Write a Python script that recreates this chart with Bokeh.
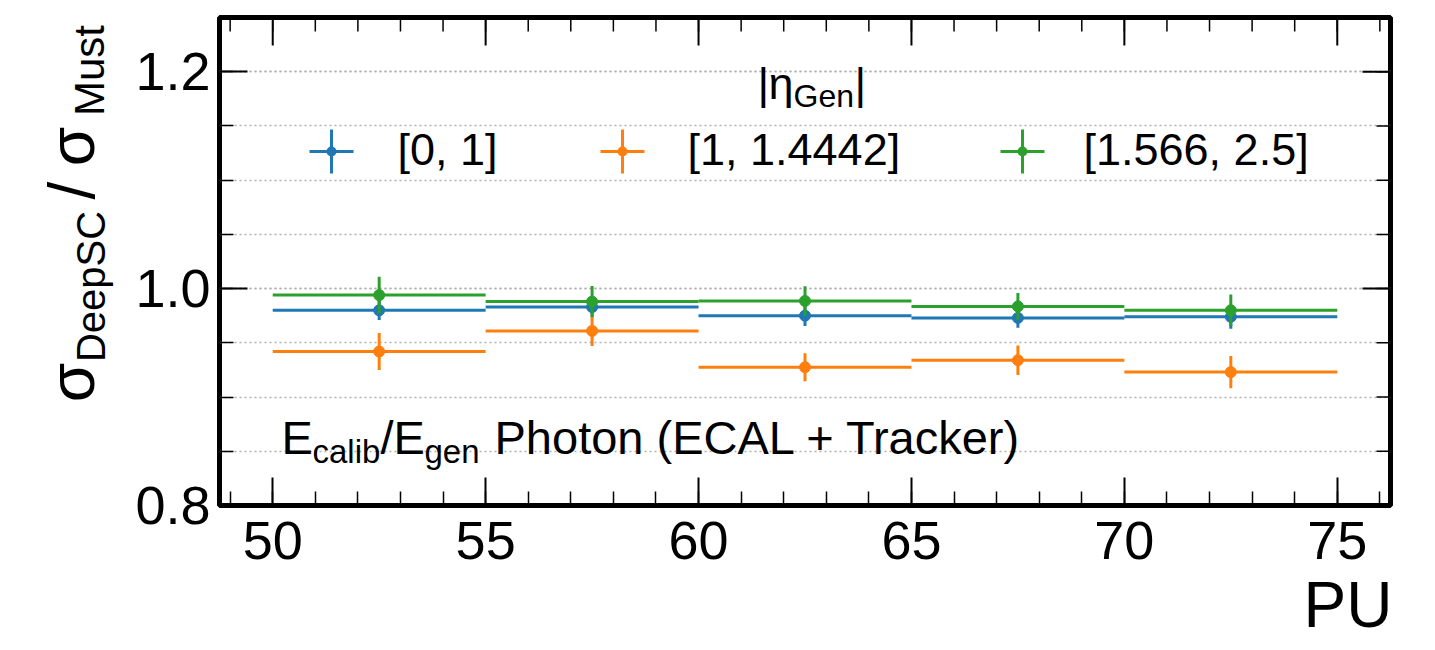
import math
from bokeh.plotting import figure
from bokeh.layouts import row
from bokeh.models import (Range1d, LinearAxis, FixedTicker, Label, Arrow, Title,
                          BoxAnnotation, PrintfTickFormatter)
from bokeh.embed import file_html
from bokeh.resources import INLINE

# ---------------- data ----------------
pu_bin_edges = [50, 55, 60, 65, 70, 75]
pu_bin_centers = [52.5, 57.5, 62.5, 67.5, 72.5]

eta_bin_labels = ["[0, 1]", "[1, 1.4442]", "[1.566, 2.5]"]
series_colors = ["#1f77b4", "#ff7f0e", "#2ca02c"]

ratio_eta_0_1 = [0.980, 0.983, 0.975, 0.973, 0.974]
err_eta_0_1 = [0.009, 0.008, 0.0095, 0.009, 0.011]
ratio_eta_1_14442 = [0.942, 0.961, 0.9275, 0.934, 0.923]
err_eta_1_14442 = [0.017, 0.014, 0.013, 0.0136, 0.0148]
ratio_eta_1566_25 = [0.994, 0.988, 0.9886, 0.9836, 0.980]
err_eta_1566_25 = [0.017, 0.0145, 0.0136, 0.0123, 0.0145]

x_limits = [48.75, 76.25]
y_limits = [0.8, 1.25]
x_major_ticks = [50, 55, 60, 65, 70, 75]
x_minor_ticks = list(range(49, 77))
y_major_ticks = [0.8, 1.0, 1.2]
y_minor_ticks = [0.80, 0.85, 0.90, 0.95, 1.00, 1.05, 1.10, 1.15, 1.20, 1.25]

FONT = "Liberation Sans"
BASE_SHIFT = 0.45  # Label vertical anchor correction (fraction of font size)

# ---------------- layout geometry (page px) ----------------
LEFT_W = 130
MAIN_W, H = 1300, 650
FL, FR, FT, FB = 219, 1390, 17, 505   # frame edges on the page

# ---------------- main figure ----------------
p = figure(width=MAIN_W, height=H, x_range=Range1d(*x_limits), y_range=Range1d(*y_limits),
           output_backend="svg", toolbar_location=None,
           min_border_left=FL - LEFT_W, min_border_right=LEFT_W + MAIN_W - FR,
           min_border_top=FT, min_border_bottom=H - FB,
           x_axis_location=None, y_axis_location=None)
p.background_fill_color = "white"
p.border_fill_color = "white"
p.outline_line_color = "black"
p.outline_line_width = 5


def style_axis(ax, ticks, minor):
    ax.ticker = FixedTicker(ticks=ticks, minor_ticks=minor)
    ax.axis_line_color = None
    ax.major_tick_in = 28
    ax.major_tick_out = 0
    ax.minor_tick_in = 14
    ax.minor_tick_out = 0
    ax.major_tick_line_width = 2
    ax.minor_tick_line_width = 1.5
    ax.major_tick_line_color = "black"
    ax.minor_tick_line_color = "black"
    ax.major_label_text_font = FONT
    ax.major_label_text_color = "black"
    ax.major_label_text_font_size = "54px"


xb = LinearAxis()
style_axis(xb, x_major_ticks, x_minor_ticks)
xb.major_label_standoff = 16
p.add_layout(xb, "below")
yl = LinearAxis(formatter=PrintfTickFormatter(format="%.1f"))
style_axis(yl, y_major_ticks, y_minor_ticks)
yl.major_label_standoff = 9
p.add_layout(yl, "left")

# x-axis title, right-aligned below the tick labels
p.add_layout(Title(text="PU", align="right", text_font=FONT, text_font_size="64px",
                   text_font_style="normal", text_color="black", standoff=11, offset=-2), "below")

# mirrored (inward) ticks on top and right: half of each dash is clipped by the frame
n_xmaj, n_xmin = len(x_major_ticks), len(x_minor_ticks)
n_ymaj, n_ymin = len(y_major_ticks), len(y_minor_ticks)
p.scatter(x=x_major_ticks, y=[y_limits[1]] * n_xmaj, marker="dash", angle=math.pi / 2,
          size=56, line_color="black", line_width=2)
p.scatter(x=x_minor_ticks, y=[y_limits[1]] * n_xmin, marker="dash", angle=math.pi / 2,
          size=28, line_color="black", line_width=1.5)
p.scatter(x=[x_limits[1]] * n_ymaj, y=y_major_ticks, marker="dash",
          size=56, line_color="black", line_width=2)
p.scatter(x=[x_limits[1]] * n_ymin, y=y_minor_ticks, marker="dash",
          size=28, line_color="black", line_width=1.5)

p.xgrid.visible = False
p.ygrid.ticker = FixedTicker(ticks=y_major_ticks, minor_ticks=y_minor_ticks)
p.ygrid.grid_line_color = "#b0b0b0"
p.ygrid.grid_line_dash = "2 3"
p.ygrid.grid_line_width = 1.5
p.ygrid.minor_grid_line_color = "#b0b0b0"
p.ygrid.minor_grid_line_dash = "2 3"
p.ygrid.minor_grid_line_width = 1.5

# ---------------- data marks ----------------
series = [(ratio_eta_0_1, err_eta_0_1), (ratio_eta_1_14442, err_eta_1_14442),
          (ratio_eta_1566_25, err_eta_1566_25)]
for (vals, errs), col in zip(series, series_colors):
    p.segment(x0=pu_bin_edges[:-1], x1=pu_bin_edges[1:], y0=vals, y1=vals,
              line_color=col, line_width=3)
    p.segment(x0=pu_bin_centers, x1=pu_bin_centers,
              y0=[v - e for v, e in zip(vals, errs)], y1=[v + e for v, e in zip(vals, errs)],
              line_color=col, line_width=3)
    p.scatter(x=pu_bin_centers, y=vals, size=11, marker="circle",
              fill_color=col, line_color=col)


# ---------------- text helpers ----------------
def add_label(fig, text, fx, fy, size, align="left", angle=0.0):
    fig.add_layout(Label(x=fx, y=fy, x_units="screen", y_units="screen", text=text,
                         text_font=FONT, text_font_size=f"{size}px", text_color="black",
                         text_align=align, text_baseline="alphabetic", angle=angle))


def main_label(text, X, Yb, size, align="left"):
    # X: page x of anchor, Yb: page y of the wanted baseline
    add_label(p, text, X - FL, FB - (Yb - BASE_SHIFT * size), size, align)


# annotation: E_calib/E_gen Photon (ECAL + Tracker)
main_label("E", 281, 458, 47)
main_label("calib", 312, 466, 33)
main_label("/", 380, 458, 47)
main_label("E", 393, 458, 47)
main_label("gen", 424, 466, 33)
main_label("Photon (ECAL + Tracker)", 494, 458, 47)

# legend title |eta_Gen|
main_label("|", 757, 103, 45)
main_label("η", 768, 103, 45)
main_label("Gen", 793, 110, 32)
main_label("|", 854, 103, 45)

# legend entries
leg_marker_x = [331, 622, 1022]
leg_text_x = [397, 687, 1083]
LEG_Y = 151
for lab, col, mx, tx in zip(eta_bin_labels, series_colors, leg_marker_x, leg_text_x):
    p.add_layout(Arrow(x_start=mx - 22 - FL, y_start=FB - LEG_Y, x_end=mx + 22 - FL, y_end=FB - LEG_Y,
                       start_units="screen", end_units="screen", start=None, end=None,
                       line_color=col, line_width=3))
    p.add_layout(Arrow(x_start=mx - FL, y_start=FB - LEG_Y + 22, x_end=mx - FL, y_end=FB - LEG_Y - 22,
                       start_units="screen", end_units="screen", start=None, end=None,
                       line_color=col, line_width=3))
    p.add_layout(BoxAnnotation(left=mx - 5 - FL, right=mx + 5 - FL,
                               bottom=FB - LEG_Y - 5, top=FB - LEG_Y + 5,
                               left_units="screen", right_units="screen",
                               bottom_units="screen", top_units="screen",
                               fill_color=col, fill_alpha=1.0, line_color=None, border_radius=5))
    main_label(lab, tx, 169, 45)

# ---------------- side figure for the y-axis title ----------------
ylab = figure(width=LEFT_W, height=H, x_range=Range1d(0, LEFT_W), y_range=Range1d(0, FB - FT),
              output_backend="svg", toolbar_location=None,
              min_border_left=0, min_border_right=0, min_border_top=FT, min_border_bottom=H - FB,
              x_axis_location=None, y_axis_location=None)
ylab.grid.visible = False
ylab.outline_line_color = None
ylab.background_fill_color = "white"
ylab.border_fill_color = "white"
R = math.pi / 2


def ylab_piece(text, Xb, Yc, size):
    # Xb: page x of the baseline, Yc: page y of the piece's centre
    add_label(ylab, text, Xb - BASE_SHIFT * size, FB - Yc, size, "center", R)


ylab_piece("σ", 100, 382, 64)
ylab_piece("DeepSC", 108, 286, 40)
ylab_piece("/", 100, 190, 64)
ylab_piece("σ", 100, 146, 64)
ylab_piece("Must", 108, 70, 42)

layout = row(ylab, p)
open("out.html", "w").write(file_html(layout, INLINE))
